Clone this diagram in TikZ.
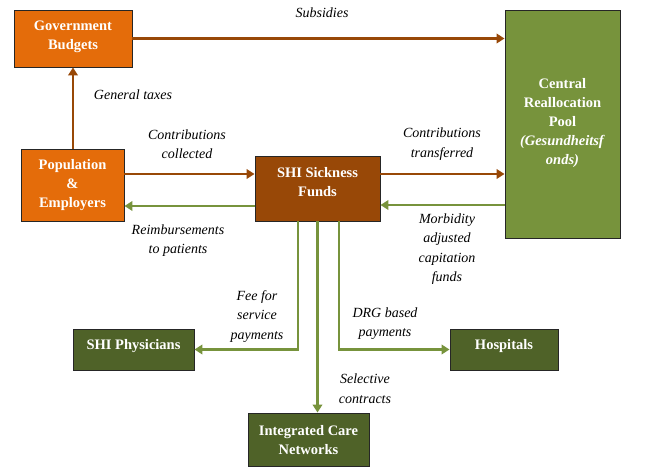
\documentclass[tikz,border=0pt]{standalone}
\usepackage{fontspec}
\setmainfont{Liberation Serif}
\usetikzlibrary{arrows.meta}
\definecolor{orng}{HTML}{E46C0A}
\definecolor{brwn}{HTML}{984807}
\definecolor{grn}{HTML}{77933C}
\definecolor{dgrn}{HTML}{4F6228}
\tikzset{
  box/.style={draw=black!85, line width=0.9pt, inner sep=0pt},
  btxt/.style={text=white, font=\bfseries\fontsize{14.5}{19}\selectfont, align=center, inner sep=0pt},
  lab/.style={font=\itshape\fontsize{14}{19.5}\selectfont, align=center, inner sep=0pt},
  barrow/.style={draw=brwn, line width=2.8pt, -{Triangle[length=8pt,width=9.5pt]}},
  garrow/.style={draw=grn, line width=2.8pt, -{Triangle[length=8pt,width=9.5pt]}},
}
\begin{document}
\begin{tikzpicture}[x=1pt,y=-1pt]
\useasboundingbox (0,0) rectangle (649,473);
% boxes
\node[box, fill=orng, minimum width=118pt, minimum height=57pt] (gov) at (73,38.5) {};
\node[box, fill=orng, minimum width=103pt, minimum height=72pt] (pop) at (72.5,185) {};
\node[box, fill=brwn, minimum width=125pt, minimum height=65pt] (shi) at (317.5,188.5) {};
\node[box, fill=grn, minimum width=115pt, minimum height=228pt] (pool) at (562.5,124) {};
\node[box, fill=dgrn, minimum width=121pt, minimum height=41pt] (phys) at (133.5,349.5) {};
\node[box, fill=dgrn, minimum width=108pt, minimum height=41pt] (hosp) at (504,349.5) {};
\node[box, fill=dgrn, minimum width=121pt, minimum height=53pt] (icn) at (308.5,439.5) {};
% box texts
\node[btxt] (govt) at (73,37) {Government\\Budgets};
\node[btxt] (popt) at (72.5,185) {Population\\\&\\Employers};
\node[btxt] (shit) at (317.5,182.5) {SHI Sickness\\Funds};
\node[btxt] (poolt) at (562.5,123) {Central\\Reallocation\\Pool\\\textit{(Gesundheitsf}\\\textit{onds)}};
\node[btxt] (physt) at (133.5,346) {SHI Physicians};
\node[btxt] (hospt) at (504,346) {Hospitals};
\node[btxt] (icnt) at (308.5,440.5) {Integrated Care\\Networks};
% helper coordinates
\path ([yshift=11pt]pop.east) coordinate (pc);
\path ([yshift=-21pt]pop.east) coordinate (pr);
\path ([yshift=14.5pt]shi.east) coordinate (sc);
\path ([yshift=-81pt]pool.west) coordinate (pm);
\path ([xshift=-19.5pt]shi.south) coordinate (sf);
\path ([xshift=21.5pt]shi.south) coordinate (sd);
% connectors
\draw[barrow] (gov.east) -- (gov.east -| pool.west);
\draw[barrow] (pop.north -| gov.south) -- (gov.south);
\draw[barrow] (pc) -- (pc -| shi.west);
\draw[garrow] (pr -| shi.west) -- (pr);
\draw[barrow] (sc) -- (sc -| pool.west);
\draw[garrow] (pm) -- (pm -| shi.east);
\draw[garrow] (sf) |- (phys.east);
\draw[garrow] (shi.south) -- (shi.south |- icn.north);
\draw[garrow] (sd) |- (hosp.west);
% labels
\node[lab] (l1) at (322,13) {Subsidies};
\node[lab] (l2) at (133,95) {General taxes};
\node[lab] (l3) at (187,144) {Contributions\\collected};
\node[lab] (l4) at (178,240.5) {Reimbursements\\to patients};
\node[lab] (l5) at (442,144) {Contributions\\transferred};
\node[lab] (l6) at (447,249) {Morbidity\\adjusted\\capitation\\funds};
\node[lab] (l7) at (257,316.5) {Fee for\\service\\payments};
\node[lab] (l8) at (385,323.5) {DRG based\\payments};
\node[lab] (l9) at (365,388.5) {Selective\\contracts};
\end{tikzpicture}
\end{document}
